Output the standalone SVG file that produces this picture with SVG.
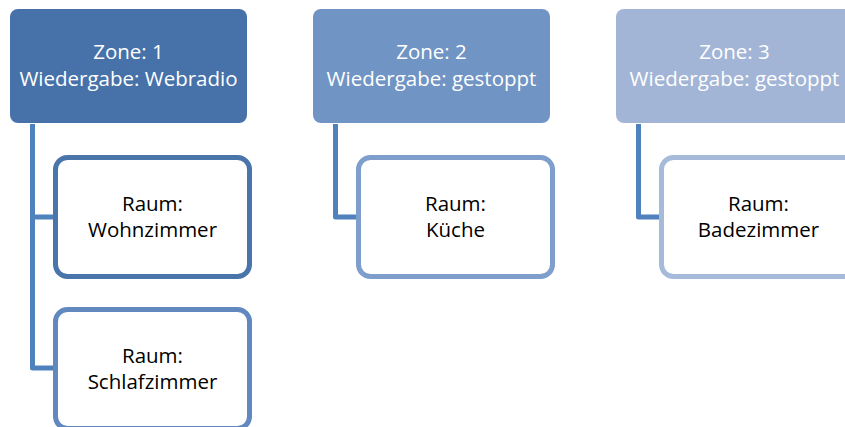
<svg xmlns="http://www.w3.org/2000/svg" width="845" height="427" viewBox="0 0 845 427">
<style>
.zt{font-family:"Open Sans","Noto Sans",sans-serif;font-size:20.5px;fill:#ffffff;text-anchor:middle}
.rt{font-family:"Open Sans","Noto Sans",sans-serif;font-size:20.5px;fill:#000000;text-anchor:middle}
.room{fill:#ffffff;stroke-width:5}
.con{fill:none;stroke:#4F81BD;stroke-width:5;stroke-linejoin:round}
</style>
<rect width="845" height="427" fill="#ffffff"/>
<g id="connectors">
<path class="con" d="M32.5,124 V368 H56 M32.5,217 H56"/>
<path class="con" d="M335.5,124 V217 H359"/>
<path class="con" d="M638.5,124 V217 H662"/>
</g>
<g id="zone1">
<rect x="10" y="9" width="237" height="114" rx="8" fill="#4672A9"/>
<text class="zt" x="128.5" y="59">Zone: 1</text>
<text class="zt" x="128.5" y="85.5">Wiedergabe: Webradio</text>
</g>
<g id="zone2">
<rect x="313" y="9" width="237" height="114" rx="8" fill="#7094C3"/>
<text class="zt" x="431.5" y="59">Zone: 2</text>
<text class="zt" x="431.5" y="85.5">Wiedergabe: gestoppt</text>
</g>
<g id="zone3">
<rect x="616" y="9" width="237" height="114" rx="8" fill="#A2B5D6"/>
<text class="zt" x="734.5" y="59">Zone: 3</text>
<text class="zt" x="734.5" y="85.5">Wiedergabe: gestoppt</text>
</g>
<g id="room-wohnzimmer">
<rect class="room" x="55.5" y="157.5" width="194" height="119" rx="12" stroke="#4A75AB"/>
<text class="rt" x="152.5" y="211">Raum:</text>
<text class="rt" x="152.5" y="237">Wohnzimmer</text>
</g>
<g id="room-schlafzimmer">
<rect class="room" x="55.5" y="309.5" width="194" height="119" rx="12" stroke="#6189BF"/>
<text class="rt" x="152.5" y="363">Raum:</text>
<text class="rt" x="152.5" y="389">Schlafzimmer</text>
</g>
<g id="room-kueche">
<rect class="room" x="358.5" y="157.5" width="194" height="119" rx="12" stroke="#7E9ECB"/>
<text class="rt" x="455.5" y="211">Raum:</text>
<text class="rt" x="455.5" y="237">Küche</text>
</g>
<g id="room-badezimmer">
<rect class="room" x="661.5" y="157.5" width="194" height="119" rx="12" stroke="#A6BADA"/>
<text class="rt" x="758.5" y="211">Raum:</text>
<text class="rt" x="758.5" y="237">Badezimmer</text>
</g>
</svg>
